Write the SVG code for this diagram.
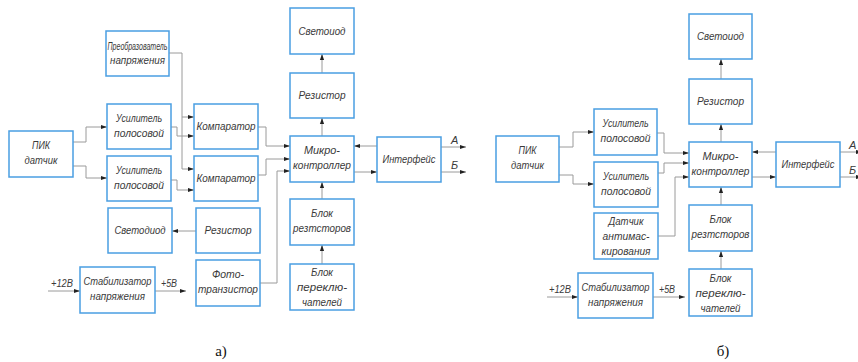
<svg xmlns="http://www.w3.org/2000/svg" width="858" height="362" viewBox="0 0 858 362">
<style>
.b{fill:#fff;stroke:#4a9ee2;stroke-width:1.5}
.t{font-family:"Liberation Sans",Arial,sans-serif;font-style:italic;font-size:11px;fill:#3a3a3a;text-anchor:middle}
.l{font-family:"Liberation Sans",Arial,sans-serif;font-style:italic;font-size:11px;fill:#3a3a3a}
.c path{fill:none;stroke:#9a9a9a;stroke-width:1}
.cap{font-family:"Liberation Serif","Times New Roman",serif;font-size:15px;fill:#111;text-anchor:middle}
</style>
<defs>
<marker id="ar" viewBox="0 0 6 6" refX="6" refY="3" markerWidth="6" markerHeight="6" markerUnits="userSpaceOnUse" orient="auto">
<path d="M0,0.9 L6,3 L0,5.1 z" fill="#222"/>
</marker>
</defs>
<rect width="858" height="362" fill="#fff"/>

<!-- a) connectors -->
<g class="c" id="connectors-a">
<path d="M73,142 H86 V127 H107" marker-end="url(#ar)"/>
<path d="M73,166 H86 V178 H107" marker-end="url(#ar)"/>
<path d="M169,53 H182 V169 H194" marker-end="url(#ar)"/>
<path d="M182,117 H194" marker-end="url(#ar)"/>
<path d="M171,127 H177 V136 H194" marker-end="url(#ar)"/>
<path d="M171,180 H177 V190 H194" marker-end="url(#ar)"/>
<path d="M258,127 H266 V146 H290" marker-end="url(#ar)"/>
<path d="M258,175 H266 V159 H290" marker-end="url(#ar)"/>
<path d="M260,283 H277 V171 H290" marker-end="url(#ar)"/>
<path d="M196,231 H172" marker-end="url(#ar)"/>
<path d="M322,136 V118" marker-end="url(#ar)"/>
<path d="M322,73 V54" marker-end="url(#ar)"/>
<path d="M322,199 V182" marker-end="url(#ar)"/>
<path d="M322,264 V245" marker-end="url(#ar)"/>
<path d="M377,146 H354" marker-end="url(#ar)"/>
<path d="M354,172 H377" marker-end="url(#ar)"/>
<path d="M441,147 H466" marker-end="url(#ar)"/>
<path d="M441,172 H466" marker-end="url(#ar)"/>
<path d="M48,291 H80" marker-end="url(#ar)"/>
<path d="M155,291 H186" marker-end="url(#ar)"/>
</g>
<text class="l" x="451" y="144">А</text>
<text class="l" x="451" y="169">Б</text>
<text class="l" x="51" y="287" textLength="22" lengthAdjust="spacingAndGlyphs">+12В</text>
<text class="l" x="161" y="287" textLength="16" lengthAdjust="spacingAndGlyphs">+5В</text>

<!-- a) nodes -->
<g id="a-pik"><rect class="b" x="9" y="131" width="64" height="46"/><text class="t" x="41" y="149" textLength="18" lengthAdjust="spacingAndGlyphs">ПИК</text><text class="t" x="41" y="164" textLength="33" lengthAdjust="spacingAndGlyphs">датчик</text></g>
<g id="a-preobr"><rect class="b" x="106" y="31" width="63" height="45"/><text class="t" x="137.5" y="50" textLength="60" lengthAdjust="spacingAndGlyphs">Преобразователь</text><text class="t" x="137.5" y="64" textLength="55" lengthAdjust="spacingAndGlyphs">напряжения</text></g>
<g id="a-us1"><rect class="b" x="107" y="104" width="64" height="45"/><text class="t" x="139" y="122" textLength="46" lengthAdjust="spacingAndGlyphs">Усилитель</text><text class="t" x="139" y="137" textLength="50" lengthAdjust="spacingAndGlyphs">полосовой</text></g>
<g id="a-us2"><rect class="b" x="107" y="156" width="64" height="45"/><text class="t" x="139" y="174" textLength="46" lengthAdjust="spacingAndGlyphs">Усилитель</text><text class="t" x="139" y="189" textLength="50" lengthAdjust="spacingAndGlyphs">полосовой</text></g>
<g id="a-svetodiod"><rect class="b" x="108" y="208" width="64" height="45"/><text class="t" x="140" y="234" textLength="51" lengthAdjust="spacingAndGlyphs">Светодиод</text></g>
<g id="a-stab"><rect class="b" x="80" y="267" width="75" height="46"/><text class="t" x="117.5" y="285" style="font-size:10px" textLength="68" lengthAdjust="spacingAndGlyphs">Стабилизатор</text><text class="t" x="117.5" y="300" textLength="55" lengthAdjust="spacingAndGlyphs">напряжения</text></g>
<g id="a-komp1"><rect class="b" x="194" y="104" width="64" height="45"/><text class="t" x="226" y="130" textLength="59" lengthAdjust="spacingAndGlyphs">Компаратор</text></g>
<g id="a-komp2"><rect class="b" x="194" y="156" width="64" height="45"/><text class="t" x="226" y="182" textLength="59" lengthAdjust="spacingAndGlyphs">Компаратор</text></g>
<g id="a-rezistor2"><rect class="b" x="196" y="208" width="64" height="45"/><text class="t" x="228" y="234" textLength="47" lengthAdjust="spacingAndGlyphs">Резистор</text></g>
<g id="a-foto"><rect class="b" x="196" y="260" width="64" height="46"/><text class="t" x="228" y="278" textLength="32" lengthAdjust="spacingAndGlyphs">Фото-</text><text class="t" x="228" y="293" textLength="60" lengthAdjust="spacingAndGlyphs">транзистор</text></g>
<g id="a-svetoiod"><rect class="b" x="290" y="8" width="64" height="46"/><text class="t" x="322" y="35" textLength="47" lengthAdjust="spacingAndGlyphs">Светоиод</text></g>
<g id="a-rezistor"><rect class="b" x="290" y="73" width="64" height="45"/><text class="t" x="322" y="99" textLength="47" lengthAdjust="spacingAndGlyphs">Резистор</text></g>
<g id="a-mk"><rect class="b" x="290" y="136" width="64" height="46"/><text class="t" x="322" y="154" textLength="36" lengthAdjust="spacingAndGlyphs">Микро-</text><text class="t" x="322" y="169" textLength="58" lengthAdjust="spacingAndGlyphs">контроллер</text></g>
<g id="a-blokrez"><rect class="b" x="290" y="199" width="64" height="46"/><text class="t" x="322" y="217" textLength="22" lengthAdjust="spacingAndGlyphs">Блок</text><text class="t" x="322" y="232" textLength="58" lengthAdjust="spacingAndGlyphs">резтсторов</text></g>
<g id="a-blokper"><rect class="b" x="290" y="264" width="64" height="46"/><text class="t" x="322" y="276" textLength="22" lengthAdjust="spacingAndGlyphs">Блок</text><text class="t" x="322" y="291" textLength="50" lengthAdjust="spacingAndGlyphs">переклю-</text><text class="t" x="322" y="306" textLength="40" lengthAdjust="spacingAndGlyphs">чателей</text></g>
<g id="a-interface"><rect class="b" x="377" y="137" width="64" height="45"/><text class="t" x="409" y="163" textLength="53" lengthAdjust="spacingAndGlyphs">Интерфейс</text></g>
<text class="cap" x="221" y="356">а)</text>

<!-- b) connectors -->
<g class="c" id="connectors-b">
<path d="M559,147 H573 V132 H594" marker-end="url(#ar)"/>
<path d="M559,175 H573 V184 H594" marker-end="url(#ar)"/>
<path d="M657,133 H664 V153 H689" marker-end="url(#ar)"/>
<path d="M658,173 H664 V163 H689" marker-end="url(#ar)"/>
<path d="M658,236 H675 V177 H689" marker-end="url(#ar)"/>
<path d="M721,142 V124" marker-end="url(#ar)"/>
<path d="M721,79 V59" marker-end="url(#ar)"/>
<path d="M721,205 V187" marker-end="url(#ar)"/>
<path d="M721,269 V251" marker-end="url(#ar)"/>
<path d="M776,152 H752" marker-end="url(#ar)"/>
<path d="M752,177 H776" marker-end="url(#ar)"/>
<path d="M840,152 H862" marker-end="url(#ar)"/>
<path d="M840,177 H862" marker-end="url(#ar)"/>
<path d="M547,297 H578" marker-end="url(#ar)"/>
<path d="M653,297 H685" marker-end="url(#ar)"/>
</g>
<text class="l" x="849" y="149">А</text>
<text class="l" x="849" y="174">Б</text>
<text class="l" x="549" y="293" textLength="22" lengthAdjust="spacingAndGlyphs">+12В</text>
<text class="l" x="659" y="293" textLength="16" lengthAdjust="spacingAndGlyphs">+5В</text>

<!-- b) nodes -->
<g id="b-pik"><rect class="b" x="496" y="136" width="63" height="46"/><text class="t" x="527.5" y="154" textLength="18" lengthAdjust="spacingAndGlyphs">ПИК</text><text class="t" x="527.5" y="169" textLength="33" lengthAdjust="spacingAndGlyphs">датчик</text></g>
<g id="b-us1"><rect class="b" x="594" y="109" width="63" height="46"/><text class="t" x="625.5" y="127" textLength="46" lengthAdjust="spacingAndGlyphs">Усилитель</text><text class="t" x="625.5" y="142" textLength="50" lengthAdjust="spacingAndGlyphs">полосовой</text></g>
<g id="b-us2"><rect class="b" x="594" y="162" width="64" height="45"/><text class="t" x="626" y="180" textLength="46" lengthAdjust="spacingAndGlyphs">Усилитель</text><text class="t" x="626" y="195" textLength="50" lengthAdjust="spacingAndGlyphs">полосовой</text></g>
<g id="b-datchik"><rect class="b" x="594" y="213" width="64" height="46"/><text class="t" x="626" y="225" textLength="35" lengthAdjust="spacingAndGlyphs">Датчик</text><text class="t" x="626" y="240" textLength="47" lengthAdjust="spacingAndGlyphs">антимас-</text><text class="t" x="626" y="255" textLength="49" lengthAdjust="spacingAndGlyphs">кирования</text></g>
<g id="b-stab"><rect class="b" x="578" y="273" width="75" height="45"/><text class="t" x="615.5" y="291" style="font-size:10px" textLength="68" lengthAdjust="spacingAndGlyphs">Стабилизатор</text><text class="t" x="615.5" y="306" textLength="55" lengthAdjust="spacingAndGlyphs">напряжения</text></g>
<g id="b-svetoiod"><rect class="b" x="689" y="14" width="63" height="45"/><text class="t" x="720.5" y="40" textLength="47" lengthAdjust="spacingAndGlyphs">Светоиод</text></g>
<g id="b-rezistor"><rect class="b" x="689" y="79" width="63" height="45"/><text class="t" x="720.5" y="105" textLength="47" lengthAdjust="spacingAndGlyphs">Резистор</text></g>
<g id="b-mk"><rect class="b" x="689" y="142" width="63" height="45"/><text class="t" x="720.5" y="160" textLength="36" lengthAdjust="spacingAndGlyphs">Микро-</text><text class="t" x="720.5" y="175" textLength="58" lengthAdjust="spacingAndGlyphs">контроллер</text></g>
<g id="b-blokrez"><rect class="b" x="689" y="205" width="63" height="46"/><text class="t" x="720.5" y="223" textLength="22" lengthAdjust="spacingAndGlyphs">Блок</text><text class="t" x="720.5" y="238" textLength="58" lengthAdjust="spacingAndGlyphs">резтсторов</text></g>
<g id="b-blokper"><rect class="b" x="689" y="269" width="63" height="47"/><text class="t" x="720.5" y="282" textLength="22" lengthAdjust="spacingAndGlyphs">Блок</text><text class="t" x="720.5" y="297" textLength="50" lengthAdjust="spacingAndGlyphs">переклю-</text><text class="t" x="720.5" y="312" textLength="40" lengthAdjust="spacingAndGlyphs">чателей</text></g>
<g id="b-interface"><rect class="b" x="776" y="142" width="64" height="45"/><text class="t" x="808" y="168" textLength="53" lengthAdjust="spacingAndGlyphs">Интерфейс</text></g>
<text class="cap" x="723" y="356">б)</text>
</svg>
